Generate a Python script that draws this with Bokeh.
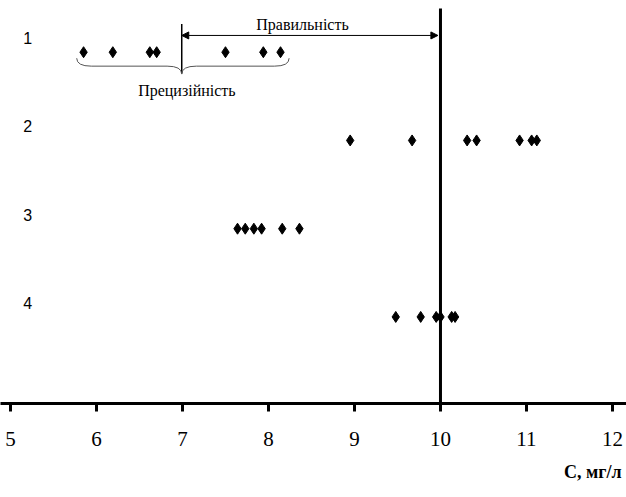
from bokeh.plotting import figure
from bokeh.embed import file_html
from bokeh.resources import INLINE
from bokeh.models import FixedTicker, Title, Arrow, NormalHead
from bokeh.core.properties import value

# ---- data ----
row_labels = ["1", "2", "3", "4"]
row_y = [4, 3, 2, 1]
row1 = [5.85, 6.19, 6.62, 6.70, 7.50, 7.94, 8.14]
row2 = [8.95, 9.67, 10.31, 10.42, 10.92, 11.06, 11.12]
row3 = [7.64, 7.73, 7.83, 7.92, 8.16, 8.36]
row4 = [9.48, 9.77, 9.95, 10.00, 10.13, 10.17]
rows = [row1, row2, row3, row4]
true_value = 10
x_ticks = [5, 6, 7, 8, 9, 10, 11, 12]
x_title = "С, мг/л"
accuracy_label = "Правильність"
precision_label = "Прецизійність"

SERIF = "Liberation Serif"
SANS = "Liberation Sans"

p = figure(width=626, height=497, x_range=(4.884, 12.163), y_range=(0.019, 4.586),
           output_backend="svg", toolbar_location=None, y_axis_location=None,
           min_border_left=0, min_border_right=0, min_border_top=0, min_border_bottom=92)
p.grid.visible = False
p.outline_line_color = None

ax = p.xaxis[0]
ax.ticker = FixedTicker(ticks=x_ticks)
ax.axis_line_width = 3
ax.major_tick_line_width = 3
ax.major_tick_out = 8
ax.major_tick_in = 0
ax.minor_tick_line_color = None
ax.major_label_text_font = SERIF
ax.major_label_text_font_size = "21px"
ax.major_label_text_color = "black"
ax.major_label_standoff = 20

# axis title (right-aligned, below axis)
p.add_layout(Title(text=x_title, align="right", vertical_align="top", text_font=SERIF,
                   text_font_size="18px", text_font_style="bold", text_color="black",
                   standoff=27, offset=5),
             "below")

# points
for vals, yv in zip(rows, row_y):
    p.scatter(vals, [yv] * len(vals), marker="diamond", size=11, color="black")

# row labels
p.text(x=[5.2] * 4, y=[v + 0.16 for v in row_y], text=row_labels,
       text_font=value(SANS), text_font_size="16px", text_align="center",
       text_baseline="middle", text_color="black")

# true value line
p.segment(x0=[true_value], y0=[0.019], x1=[true_value], y1=[4.496], line_width=3, color="black")

# mean of series 1
m = sum(row1) / len(row1)
y1 = row_y[0]

# vertical tick at mean
p.segment(x0=[m], y0=[y1 - 0.24], x1=[m], y1=[y1 + 0.32], line_width=1.5, color="black")

# double arrow
p.add_layout(Arrow(x_start=m, y_start=y1 + 0.19, x_end=true_value - 0.03, y_end=y1 + 0.19,
                   line_width=1, line_color="black",
                   start=NormalHead(size=7, fill_color="black", line_color="black"),
                   end=NormalHead(size=7, fill_color="black", line_color="black")))
p.text(x=[(m + true_value) / 2 - 0.1], y=[y1 + 0.316], text=[accuracy_label],
       text_font=value(SERIF), text_font_size="16px", text_align="center",
       text_baseline="alphabetic", text_color="black")

# brace under series 1
xl = min(row1) - 0.08
xr = max(row1) + 0.10
yT, yM, yB = y1 - 0.068, y1 - 0.158, y1 - 0.248
w = 0.17
bc = "#555555"
p.quadratic(x0=[xl, m - w, m + w, xr], y0=[yT, yM, yM, yT],
            x1=[xl + w, m, m, xr - w], y1=[yM, yB, yB, yM],
            cx=[xl, m, m, xr], cy=[yM, yM, yM, yM], line_color=bc, line_width=1)
p.segment(x0=[xl + w, m + w], y0=[yM, yM], x1=[m - w, xr - w], y1=[yM, yM],
          line_color=bc, line_width=1)
p.text(x=[m + 0.06], y=[y1 - 0.429], text=[precision_label],
       text_font=value(SERIF), text_font_size="16px", text_align="center",
       text_baseline="alphabetic", text_color="black")

open("out.html", "w").write(file_html(p, INLINE))
